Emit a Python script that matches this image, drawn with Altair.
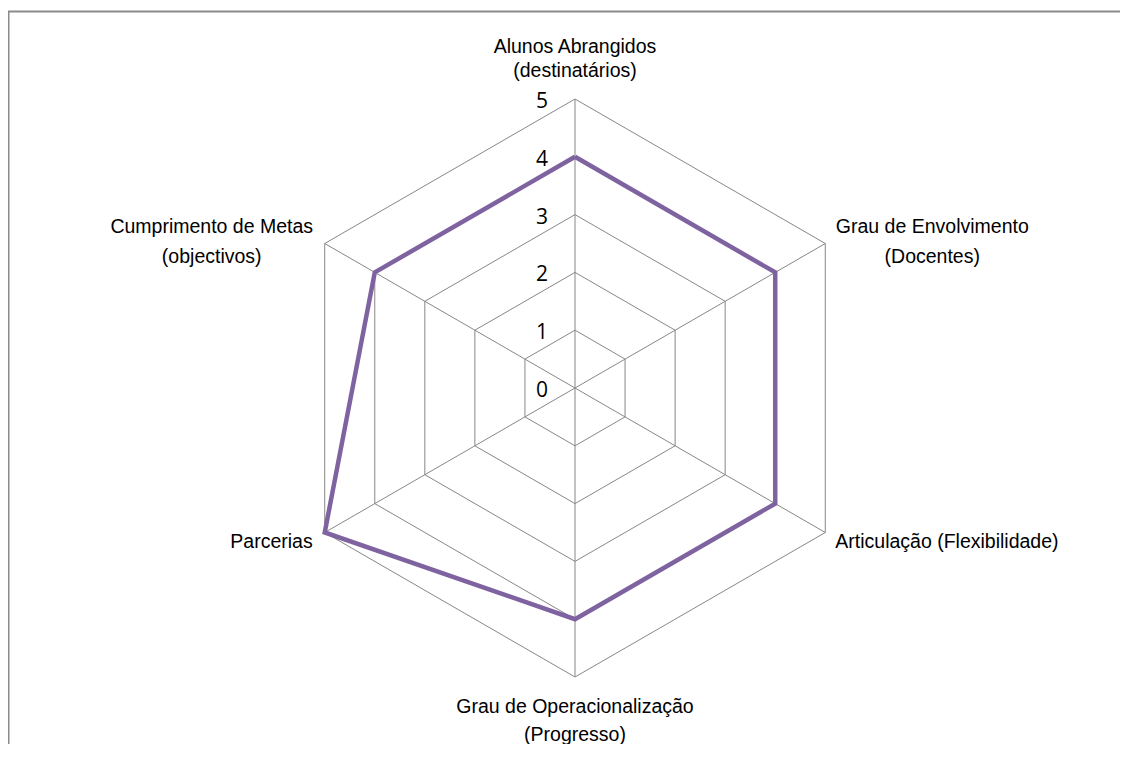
import math
import altair as alt
import pandas as pd

# ---- data ----
categories = [
    "Alunos Abrangidos\n(destinatários)",
    "Grau de Envolvimento\n(Docentes)",
    "Articulação (Flexibilidade)",
    "Grau de Operacionalização\n(Progresso)",
    "Parcerias",
    "Cumprimento de Metas\n(objectivos)",
]
values = [4, 4, 4, 4, 5, 4]
tick_values = [0, 1, 2, 3, 4, 5]

# ---- layout (pixels, chart coordinates) ----
W, H = 1112, 736
CX, CY = 567, 380
K = 57.8  # pixels per unit
R_MAX = max(tick_values)

xdom = [-CX / K, (W - CX) / K]
ydom = [-(H - CY) / K, CY / K]
xs = alt.Scale(domain=xdom, nice=False, zero=False)
ys = alt.Scale(domain=ydom, nice=False, zero=False)

n = len(categories)


def ang(i):
    return 2 * math.pi * i / n


# series polygon
poly = []
for j in range(n + 1):
    i = j % n
    v = values[i]
    poly.append({"x": v * math.sin(ang(i)), "y": v * math.cos(ang(i)), "o": j})
poly_df = pd.DataFrame(poly)

# grid rings
rings = []
for r in tick_values[1:]:
    for j in range(n + 1):
        i = j % n
        rings.append({"x": r * math.sin(ang(i)), "y": r * math.cos(ang(i)), "o": j, "ring": r})
ring_df = pd.DataFrame(rings)

# spokes
spoke_df = pd.DataFrame([
    {"x": 0.0, "y": 0.0, "x2": R_MAX * math.sin(ang(i)), "y2": R_MAX * math.cos(ang(i))}
    for i in range(n)
])

# tick labels
tick_df = pd.DataFrame({"x": [0.0] * len(tick_values), "y": tick_values, "t": [str(t) for t in tick_values]})

GRID = "#878787"
PURPLE = "#7F63A1"
LABEL_FONT = "Liberation Sans"

grid = alt.Chart(ring_df).mark_line(color=GRID, strokeWidth=1).encode(
    x=alt.X("x:Q", scale=xs, axis=None),
    y=alt.Y("y:Q", scale=ys, axis=None),
    detail="ring:N",
    order="o:Q",
)
spokes = alt.Chart(spoke_df).mark_rule(color=GRID, strokeWidth=1).encode(
    x=alt.X("x:Q", scale=xs, axis=None),
    y=alt.Y("y:Q", scale=ys, axis=None),
    x2="x2:Q",
    y2="y2:Q",
)
series = alt.Chart(poly_df).mark_line(color=PURPLE, strokeWidth=4.5, strokeJoin="miter").encode(
    x=alt.X("x:Q", scale=xs, axis=None),
    y=alt.Y("y:Q", scale=ys, axis=None),
    order="o:Q",
)
ticks = alt.Chart(tick_df).mark_text(
    align="right", baseline="middle", dx=-27, dy=3, font="Open Sans", fontSize=21, color="#000000"
).encode(
    x=alt.X("x:Q", scale=xs, axis=None),
    y=alt.Y("y:Q", scale=ys, axis=None),
    text="t:N",
)

# category label styles: (align, dx, dy, lineHeight)
label_styles = [
    ("center", 0, -46, 24),
    ("center", 107, -11, 30),
    ("left", 10, 15, 30),
    ("center", 0, 36, 28),
    ("right", -12, 15, 30),
    ("center", -113, -11, 30),
]

label_layers = []
for i, cat in enumerate(categories):
    align, dx, dy, lh = label_styles[i]
    d = pd.DataFrame([{"x": R_MAX * math.sin(ang(i)), "y": R_MAX * math.cos(ang(i)), "t": cat}])
    label_layers.append(
        alt.Chart(d).mark_text(
            align=align, baseline="alphabetic", dx=dx, dy=dy, lineBreak="\n", lineHeight=lh,
            font=LABEL_FONT, fontSize=19.5, color="#000000",
        ).encode(
            x=alt.X("x:Q", scale=xs, axis=None),
            y=alt.Y("y:Q", scale=ys, axis=None),
            text="t:N",
        )
    )

frame_data = alt.Data(values=[{}])
frame_top = alt.Chart(frame_data).mark_rule(color="#8a8a8a", strokeWidth=2).encode(
    x=alt.value(0), x2=alt.value(W), y=alt.value(3.5)
)
frame_left = alt.Chart(frame_data).mark_rule(color="#8a8a8a", strokeWidth=2).encode(
    x=alt.value(0.5), y=alt.value(3), y2=alt.value(H)
)

chart = alt.layer(
    frame_top, frame_left, grid, spokes, series, ticks, *label_layers
).properties(
    width=W, height=H, padding=0, autosize=alt.AutoSizeParams(type="none")
).configure_view(stroke=None)

chart.save("out.html", embed_options={"renderer": "svg", "actions": False})
